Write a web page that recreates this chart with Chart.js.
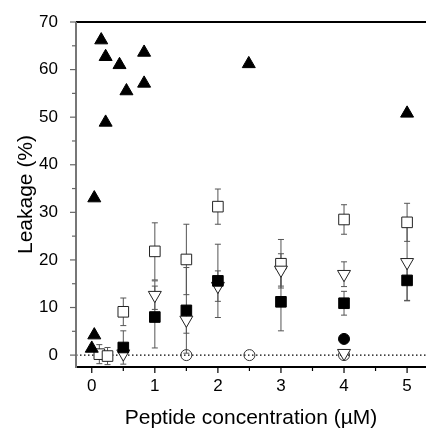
<!DOCTYPE html>
<html>
<head>
<meta charset="utf-8">
<script src="https://cdn.jsdelivr.net/npm/chart.js@4/dist/chart.umd.min.js"></script>
<style>
  body{margin:0;background:#fff;}
  #c{display:block;}
</style>
</head>
<body>
<canvas id="c" width="426" height="428"></canvas>
<script>
// tick labels
var xTicks=[0,1,2,3,4,5];
var yTicks=[0,10,20,30,40,50,60,70];

// filled up-triangles (no error bars)
var triX=[0,0.04,0.04,0.15,0.22,0.22,0.44,0.55,0.83,0.83,2.49,5];
var triY=[1.4,4.2,33,66.2,62.7,48.9,61,55.5,63.6,57.1,61.2,50.8];

// open squares
var oSqX=[0.12,0.25,0.5,1,1.5,2,3,4,5];
var oSqY=[0.2,-0.2,9.1,21.8,20.1,31.2,19.2,28.5,27.9];
var oSqErr=[2,1.8,2.9,6,7.4,3.7,5.1,3.1,4];

// filled squares
var fSqX=[0.5,1,1.5,2,3,4,5];
var fSqY=[1.6,8,9.4,15.6,11.2,10.9,15.7];
var fSqErr=[3.5,6.5,9,7.7,6.1,2.5,4.3];

// open down-triangles
var dTriX=[0.5,1,1.5,2,3,4,4,5];
var dTriY=[0.3,12.6,7.4,14.5,17.9,17,0.4,19.5];
var dTriErr=[0,3,2.8,3.2,3.4,2.6,0,8];

// open circles
var oCirX=[1.5,2.5,4];
var oCirY=[0,0,0];

// filled circle
var fCirX=[4];
var fCirY=[3.4];

function pts(xs,ys){
  var out=[];
  for(var i in xs){ out.push({x:xs[i],y:ys[i]}); }
  return out;
}

var decor={
  id:'decor',
  beforeDatasetsDraw:function(chart){
    var ctx=chart.ctx, a=chart.chartArea, sx=chart.scales.x, sy=chart.scales.y;
    ctx.save();
    // dotted zero line
    var y0=sy.getPixelForValue(0);
    ctx.setLineDash([1.5,2.5]);
    ctx.strokeStyle='#000';
    ctx.lineWidth=1.2;
    ctx.beginPath(); ctx.moveTo(a.left,y0); ctx.lineTo(a.right,y0); ctx.stroke();
    ctx.setLineDash([]);
    // error bars
    chart.data.datasets.forEach(function(ds){
      if(!ds.err) return;
      ds.data.forEach(function(p,i){
        var e=ds.err[i];
        if(!e) return;
        var px=sx.getPixelForValue(p.x);
        var t=sy.getPixelForValue(p.y+e), b=sy.getPixelForValue(p.y-e);
        ctx.strokeStyle='#555';
        ctx.lineWidth=1;
        ctx.beginPath();
        ctx.moveTo(px,t); ctx.lineTo(px,b);
        ctx.moveTo(px-3,t); ctx.lineTo(px+3,t);
        ctx.moveTo(px-3,b); ctx.lineTo(px+3,b);
        ctx.stroke();
      });
    });
    ctx.restore();
  },
  afterDraw:function(chart){
    var ctx=chart.ctx, a=chart.chartArea, sx=chart.scales.x, sy=chart.scales.y;
    ctx.save();
    // spines
    ctx.strokeStyle='#000';
    ctx.lineWidth=2;
    ctx.beginPath(); ctx.moveTo(a.left,a.top); ctx.lineTo(a.right,a.top); ctx.stroke();
    ctx.beginPath(); ctx.moveTo(a.left,a.bottom); ctx.lineTo(a.right,a.bottom); ctx.stroke();
    ctx.strokeStyle='#777';
    ctx.beginPath(); ctx.moveTo(a.left,a.top); ctx.lineTo(a.left,a.bottom+1); ctx.stroke();
    // x ticks (major + minor)
    ctx.strokeStyle='#000';
    ctx.lineWidth=1.2;
    for(var v=0;v<=5.01;v+=0.5){
      var px=sx.getPixelForValue(v);
      var len=(v%1===0)?6:4;
      ctx.beginPath(); ctx.moveTo(px,a.bottom); ctx.lineTo(px,a.bottom+len); ctx.stroke();
    }
    // y ticks
    ctx.strokeStyle='#666';
    for(var w=0;w<=70;w+=5){
      var py=sy.getPixelForValue(w);
      var l=(w%10===0)?6:4;
      ctx.beginPath(); ctx.moveTo(a.left,py); ctx.lineTo(a.left-l,py); ctx.stroke();
    }
    ctx.restore();
  }
};

var font='"Liberation Sans", Arial, sans-serif';

var ctx=document.getElementById('c');
var chart=new Chart(ctx,{
  type:'scatter',
  data:{
    datasets:[
      {data:pts(triX,triY),pointStyle:'triangle',pointRadius:7.5,backgroundColor:'#000',borderColor:'#000',borderWidth:1,order:1},
      {data:pts(fSqX,fSqY),err:fSqErr,pointStyle:'rect',pointRadius:7.5,backgroundColor:'#000',borderColor:'#000',borderWidth:1,order:2},
      {data:pts(dTriX,dTriY),err:dTriErr,pointStyle:'triangle',rotation:180,pointRadius:7.5,backgroundColor:'#fff',borderColor:'#222',borderWidth:1,order:3},
      {data:pts(oSqX,oSqY),err:oSqErr,pointStyle:'rect',pointRadius:7.5,backgroundColor:'#fff',borderColor:'#222',borderWidth:1,order:4},
      {data:pts(fCirX,fCirY),pointStyle:'circle',pointRadius:5.5,backgroundColor:'#000',borderColor:'#000',borderWidth:1,order:5},
      {data:pts(oCirX,oCirY),pointStyle:'circle',pointRadius:5.5,backgroundColor:'rgba(255,255,255,0)',borderColor:'#333',borderWidth:1,order:6}
    ]
  },
  options:{
    responsive:false,
    animation:false,
    devicePixelRatio:1,
    layout:{autoPadding:false,padding:{top:22,right:0,left:0,bottom:0}},
    plugins:{legend:{display:false},tooltip:{enabled:false}},
    scales:{
      x:{
        type:'linear',
        min:-0.25,max:5.3,
        afterBuildTicks:function(s){ s.ticks=xTicks.map(function(v){return {value:v};}); },
        afterFit:function(s){ s.height=61; s.paddingLeft=0; s.paddingRight=0; },
        grid:{drawOnChartArea:false,drawTicks:false},
        border:{display:false},
        ticks:{color:'#000',padding:9,font:{family:font,size:17},maxRotation:0},
        title:{display:true,text:'Peptide concentration (µM)',color:'#000',font:{family:font,size:21,lineHeight:0.95},padding:{top:0,bottom:0}}
      },
      y:{
        type:'linear',
        min:-2.5,max:70,
        afterBuildTicks:function(s){ s.ticks=yTicks.map(function(v){return {value:v};}); },
        afterFit:function(s){ s.width=76; s.paddingTop=0; s.paddingBottom=0; },
        grid:{drawOnChartArea:false,drawTicks:false},
        border:{display:false},
        ticks:{color:'#000',padding:18,font:{family:font,size:17}},
        title:{display:true,text:'Leakage (%)',color:'#000',font:{family:font,size:21},padding:{top:14,bottom:0}}
      }
    }
  },
  plugins:[decor]
});
</script>
</body>
</html>
